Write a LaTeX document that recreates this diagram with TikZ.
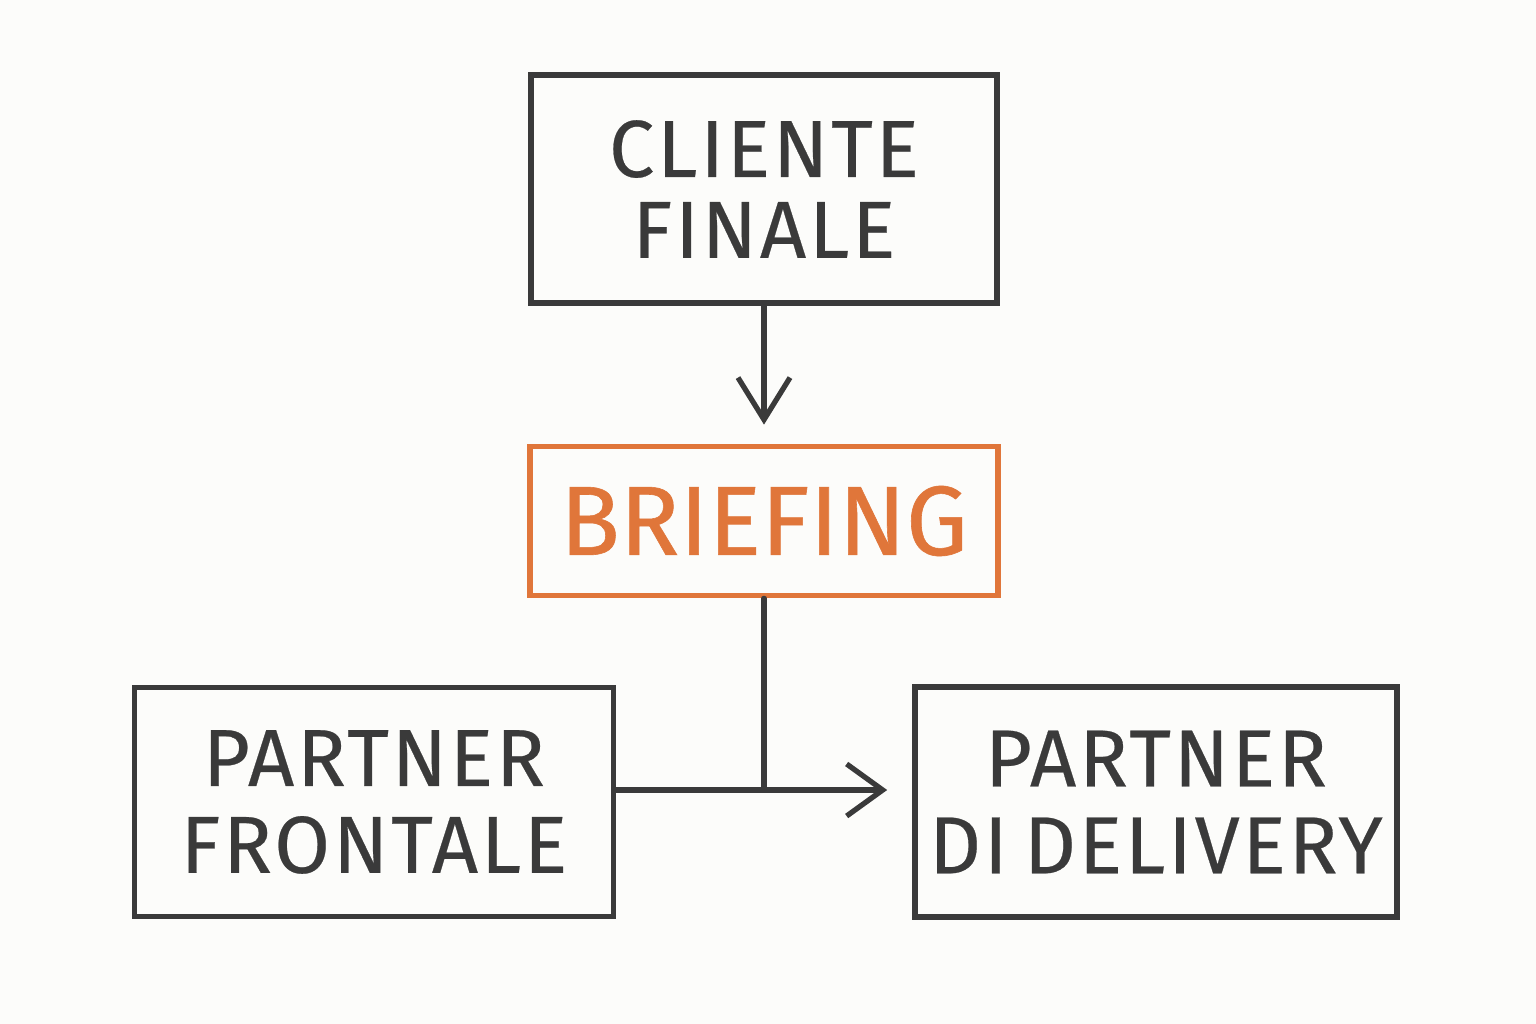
\documentclass[tikz,border=0pt]{standalone}
\usepackage{fontspec}
\setmainfont{Fira Sans}
\usetikzlibrary{arrows.meta}
\definecolor{pencil}{HTML}{3A3A3A}
\definecolor{orng}{HTML}{E0763A}
\definecolor{paper}{HTML}{FCFCFA}
\tikzset{
  box/.style={draw=pencil, line width=1.6pt, minimum width=#1, inner sep=0pt, align=center, text=pencil},
  obox/.style={draw=orng, line width=1.6pt, inner sep=0pt, align=center, text=orng},
  conn/.style={draw=pencil, line width=1.5pt, line cap=round},
  vtip/.style={-{Straight Barb[length=4.2mm,width=5.2mm,line width=1.5pt]}},
  htip/.style={-{Straight Barb[length=3.6mm,width=5.2mm,line width=1.5pt]}},
  lbl/.style={font=\fontsize{23}{23}\selectfont\addfontfeature{LetterSpace=3.5,FakeBold=0.3}},
  blbl/.style={font=\fontsize{28}{28}\selectfont\addfontfeature{FakeBold=0.6}}
}
\begin{document}
\begin{tikzpicture}[x=0.01cm,y=-0.01cm]
\fill[paper] (0,0) rectangle (1536,1024);
\useasboundingbox (0,0) rectangle (1536,1024);
\node[box=466*0.01cm, minimum height=2.28cm, lbl] (cliente) at (764,189) {CLIENTE\\FINALE};
\node[obox, minimum width=4.68cm, minimum height=1.49cm, blbl] (briefing) at (764,521) {BRIEFING};
\node[box=479*0.01cm, minimum height=2.29cm, lbl] (frontale) at (374,802) {PARTNER\\[0.06cm]FRONTALE};
\node[box=482*0.01cm, minimum height=2.30cm, lbl] (delivery) at (1156,802) {PARTNER\\[0.06cm]DI\hspace{0.2em}DELIVERY};
\coordinate (j) at (764,790);
\draw[conn, vtip] (cliente.south) -- ([yshift=0.19cm]briefing.north);
\draw[conn] (briefing.south) -- (j);
\draw[conn, htip, shorten >=0.25cm] (frontale.east |- j) -- (delivery.west |- j);
\end{tikzpicture}
\end{document}
